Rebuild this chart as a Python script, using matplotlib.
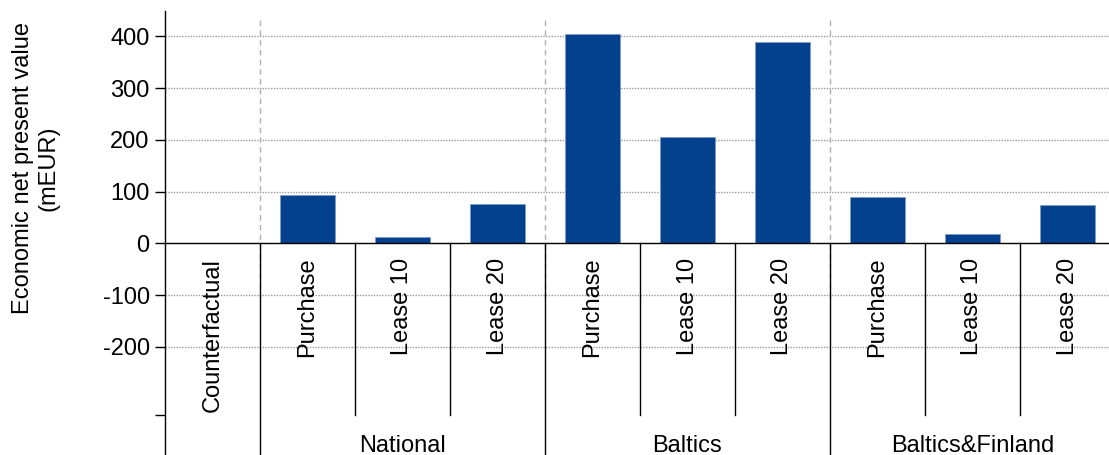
import matplotlib.pyplot as plt

plt.rcParams['font.family'] = ['Liberation Sans', 'DejaVu Sans']

# Scenario values (mEUR)
scenarios = ['Counterfactual',
             'Purchase', 'Lease 10', 'Lease 20',
             'Purchase', 'Lease 10', 'Lease 20',
             'Purchase', 'Lease 10', 'Lease 20']
npv = [0, 93, 12, 77, 405, 205, 389, 90, 18, 74]
groups = ['National', 'Baltics', 'Baltics&Finland']
group_size = [3, 3, 3]
yticks = [-200, -100, 0, 100, 200, 300, 400]

bar_color = '#03418f'
fs = 17

fig = plt.figure(figsize=(11.09, 4.55), dpi=100)
# axes run past the right edge, like the original sheet
ax = fig.add_axes([165 / 1109, 0, 950 / 1109, 444 / 455])
ax.set_xlim(0, len(scenarios))
ax.set_ylim(-409, 449)

for s in ['top', 'right', 'bottom']:
    ax.spines[s].set_visible(False)
ax.spines['left'].set_linewidth(1.0)

ax.set_yticks(yticks)
ax.set_yticklabels([str(v) for v in yticks], fontsize=fs)
ax.set_yticks([-331], minor=True)
ax.tick_params(axis='y', which='both', length=7, width=1, pad=4)
ax.set_xticks([])

for v in yticks:
    if v != 0:
        ax.axhline(v, color='#9a9a9a', lw=1.0, ls=(0, (1, 1)), zorder=0)
ax.axhline(0, color='black', lw=1.0, zorder=3)

centers = [i + 0.5 for i in range(len(scenarios))]
ax.bar(centers, npv, width=0.575, color=bar_color,
       edgecolor='#7f9cc8', linewidth=0.6, zorder=2)

# scenario labels under the zero line
for x, name in zip(centers, scenarios):
    ax.text(x, -28, name, rotation=90, ha='center', va='top', fontsize=fs)

# group boundaries and labels
start = 1
for g, n in zip(groups, group_size):
    ax.plot([start, start], [-105, 439], color='#b0b0b0', lw=1.0,
            ls=(0, (4, 3)), zorder=1)
    ax.plot([start, start], [0, -409], color='black', lw=1.0, zorder=3)
    for k in range(1, n):
        ax.plot([start + k, start + k], [0, -331], color='black', lw=1.0, zorder=3)
    ax.text(start + n / 2, -403, g, ha='center', va='baseline', fontsize=fs)
    start += n

fig.text(0.032, 0.631, 'Economic net present value\n(mEUR)', rotation=90,
         ha='center', va='center', multialignment='center', fontsize=fs)

fig.savefig('out.png', dpi=100)
